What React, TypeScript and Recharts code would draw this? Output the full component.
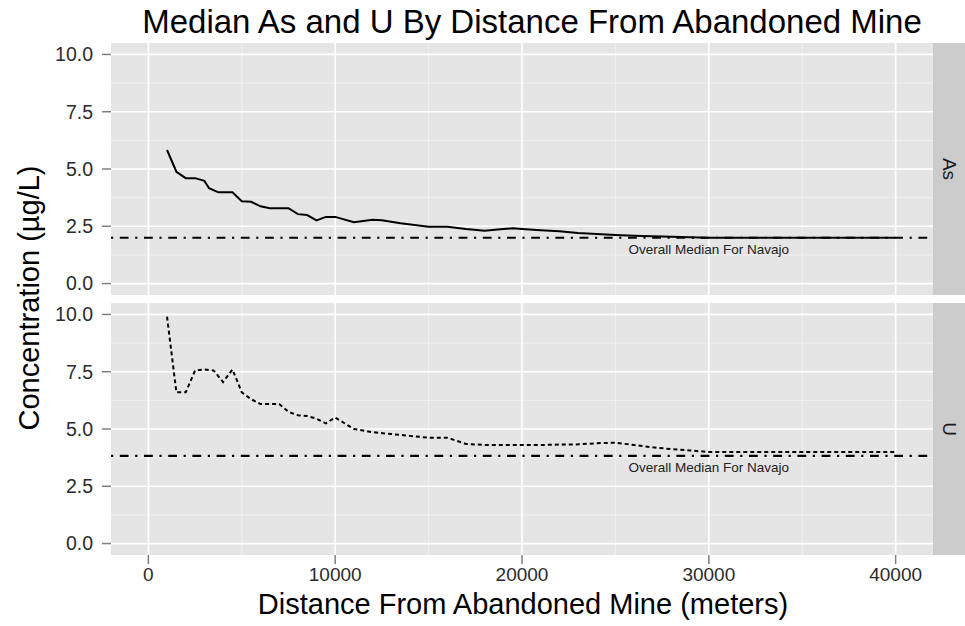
import React from 'react';
import { LineChart, Line, XAxis, YAxis, CartesianGrid, ReferenceLine, ReferenceDot } from 'recharts';

// ---- data ----
const asDistance = [1000, 1500, 2000, 2500, 3000, 3250, 3750, 4500, 5000, 5500, 6000, 6500, 7500, 8000, 8500, 9000, 9500, 10000, 11000, 12000, 12500, 13500, 15000, 16000, 17000, 18000, 19000, 19500, 20000, 21000, 22000, 23000, 24000, 25000, 26000, 27000, 28000, 29000, 30000, 31000, 32000, 33000, 34000, 35000, 36000, 37000, 38000, 39000, 40000];
const asMedian = [5.83, 4.88, 4.6, 4.6, 4.48, 4.16, 3.98, 3.98, 3.59, 3.57, 3.37, 3.29, 3.29, 3.03, 2.99, 2.76, 2.91, 2.91, 2.68, 2.78, 2.76, 2.63, 2.48, 2.48, 2.38, 2.3, 2.38, 2.41, 2.38, 2.33, 2.28, 2.21, 2.16, 2.12, 2.09, 2.06, 2.04, 2.02, 2.0, 2.0, 2.0, 2.0, 2.0, 2.0, 2.0, 2.0, 2.0, 2.0, 2.0];

const uDistance = [1000, 1500, 2000, 2500, 3000, 3500, 4000, 4500, 5000, 5500, 6000, 6500, 7000, 7500, 8000, 8500, 9000, 9500, 10000, 11000, 12000, 13000, 14000, 15000, 16000, 17000, 18000, 19000, 20000, 21000, 22000, 23000, 24000, 25000, 26000, 27000, 28000, 29000, 30000, 31000, 32000, 33000, 34000, 35000, 36000, 37000, 38000, 39000, 40000];
const uMedian = [9.9, 6.6, 6.6, 7.55, 7.6, 7.55, 7.05, 7.6, 6.6, 6.3, 6.09, 6.09, 6.09, 5.75, 5.6, 5.57, 5.45, 5.25, 5.5, 5.0, 4.86, 4.78, 4.7, 4.62, 4.62, 4.35, 4.3, 4.3, 4.3, 4.3, 4.32, 4.33, 4.38, 4.4, 4.3, 4.2, 4.12, 4.06, 4.0, 4.0, 4.0, 4.0, 4.0, 4.0, 4.0, 4.0, 4.0, 4.0, 4.0];

const navajoMedianAs = 2.0;
const navajoMedianU = 3.83;

const xTicks = [0, 10000, 20000, 30000, 40000];
const xMinor = [5000, 15000, 25000, 35000];
const yTicks = [0, 2.5, 5, 7.5, 10];
const yMinor = [1.25, 3.75, 6.25, 8.75];

const annotationText = 'Overall Median For Navajo';
const annotationX = 30000;
const annotationOffset = 0.5;

const titleText = 'Median As and U By Distance From Abandoned Mine';
const xLabel = 'Distance From Abandoned Mine (meters)';
const yLabel = 'Concentration (µg/L)';
const stripLabels = ['As', 'U'];

const FONT = '"Liberation Sans", Arial, Helvetica, sans-serif';

const asData = asDistance.map((d, i) => ({ d, v: asMedian[i] }));
const uData = uDistance.map((d, i) => ({ d, v: uMedian[i] }));

function Panel(props: { data: { d: number; v: number }[]; dash?: string; median: number; showX: boolean; top: number; height: number; marginTop: number }) {
  const { data, dash, median, showX, top, height, marginTop } = props;
  return (
    <div style={{ position: 'absolute', left: 0, top, width: 965, height }}>
      <LineChart width={965} height={height} data={data} margin={{ top: marginTop, right: 32, bottom: 0, left: 0 }}>
        <CartesianGrid fill="#E5E5E5" stroke="#F2F2F2" strokeWidth={0.9} horizontalValues={yMinor} verticalValues={xMinor} />
        <CartesianGrid stroke="#FFFFFF" strokeWidth={1.7} horizontalValues={yTicks} verticalValues={xTicks} />
        <XAxis
          type="number"
          dataKey="d"
          domain={[-2000, 42000]}
          ticks={xTicks}
          allowDataOverflow
          hide={!showX}
          height={71}
          axisLine={false}
          tickSize={9}
          tickMargin={4}
          tickLine={{ stroke: '#7F7F7F', strokeWidth: 1.5 }}
          tick={{ fontSize: 19, fill: '#2B2B2B' }}
          interval={0}
        />
        <YAxis
          type="number"
          domain={[-0.5, 10.5]}
          ticks={yTicks}
          allowDataOverflow
          width={111}
          axisLine={false}
          tickSize={9}
          tickMargin={9}
          tickLine={{ stroke: '#7F7F7F', strokeWidth: 1.5 }}
          tick={{ fontSize: 19.5, fill: '#2B2B2B' }}
          tickFormatter={(v: number) => v.toFixed(1)}
          interval={0}
        />
        <ReferenceLine y={median} stroke="#000000" strokeWidth={2.2} strokeDasharray="2.2 6.6 8.8 6.6" />
        <Line
          type="linear"
          dataKey="v"
          stroke="#000000"
          strokeWidth={2}
          strokeDasharray={dash}
          dot={false}
          activeDot={false}
          isAnimationActive={false}
        />
        <ReferenceDot
          x={annotationX}
          y={median - annotationOffset}
          r={0}
          fill="none"
          stroke="none"
          label={{ value: annotationText, position: 'center', fontSize: 13.5, fill: '#222222' }}
        />
      </LineChart>
    </div>
  );
}

export default function App() {
  return (
    <div style={{ position: 'absolute', left: 0, top: 0, width: 965, height: 626, background: '#FFFFFF', fontFamily: FONT, overflow: 'hidden' }}>
      <Panel data={asData} median={navajoMedianAs} showX={false} top={0} height={295} marginTop={43} />
      <Panel data={uData} dash="4 3" median={navajoMedianU} showX={true} top={303} height={323} marginTop={0} />
      <svg width={965} height={626} style={{ position: 'absolute', left: 0, top: 0, pointerEvents: 'none', fontFamily: FONT }}>
        <rect x={933} y={43} width={32} height={252} fill="#CCCCCC" />
        <rect x={933} y={303} width={32} height={252} fill="#CCCCCC" />
        <text transform="translate(949,169) rotate(90)" textAnchor="middle" dominantBaseline="central" fontSize={19} fill="#1A1A1A">{stripLabels[0]}</text>
        <text transform="translate(949,429) rotate(90)" textAnchor="middle" dominantBaseline="central" fontSize={19} fill="#1A1A1A">{stripLabels[1]}</text>
        <text x={532} y={33} textAnchor="middle" fontSize={33} fill="#000000">{titleText}</text>
        <text x={523} y={614} textAnchor="middle" fontSize={29} fill="#000000">{xLabel}</text>
        <text transform="translate(38.5,298) rotate(-90)" textAnchor="middle" fontSize={29} fill="#000000">{yLabel}</text>
      </svg>
    </div>
  );
}
